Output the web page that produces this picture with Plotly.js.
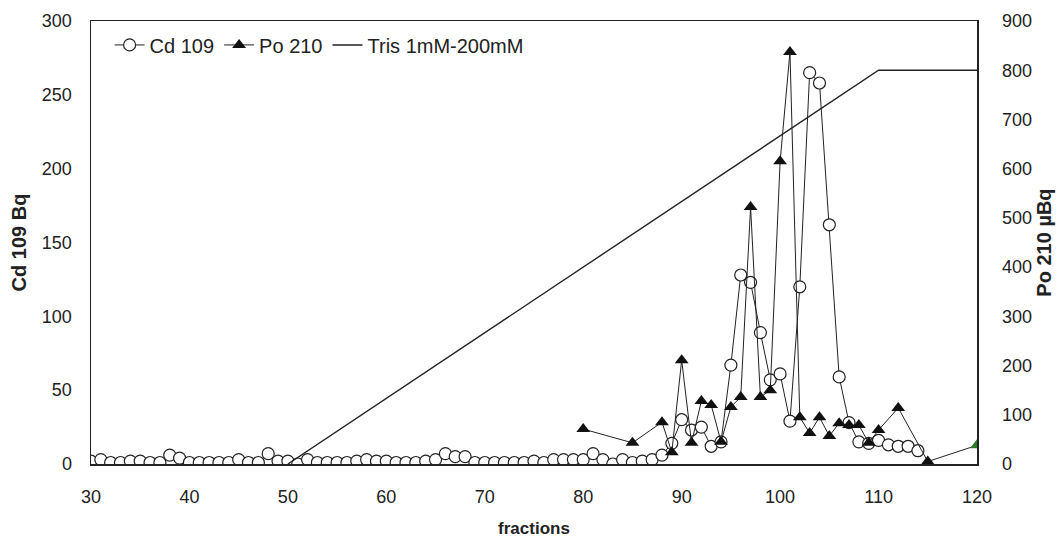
<!DOCTYPE html>
<html>
<head>
<meta charset="utf-8">
<script src="https://cdn.plot.ly/plotly-3.0.1.min.js"></script>
<style>html,body{margin:0;padding:0;background:#fff;}#chart{width:1060px;height:541px;}</style>
</head>
<body>
<div id="chart"></div>
<script>
// Cd 109 (Bq), one value per fraction 30..114
const cdFractions = [30,31,32,33,34,35,36,37,38,39,40,41,42,43,44,45,46,47,48,49,50,51,52,53,54,55,56,57,58,59,60,61,62,63,64,65,66,67,68,69,70,71,72,73,74,75,76,77,78,79,80,81,82,83,84,85,86,87,88,89,90,91,92,93,94,95,96,97,98,99,100,101,102,103,104,105,106,107,108,109,110,111,112,113,114];
const cdValues = [2,3,1,1,2,2,1,1,6,4,1,1,1,1,1,3,1,1,7,2,2,0,3,1,1,1,1,2,3,2,2,1,1,1,2,3,7,5,5,1,1,1,1,1,1,2,1,3,3,3,3,7,3,0,3,1,2,3,6,14,30,23,25,12,15,67,128,123,89,57,61,29,120,265,258,162,59,28,15,14,16,13,12,12,9];
// Po 210 (µBq)
const poFractions = [80,85,88,89,90,91,92,93,94,95,96,97,98,99,100,101,102,103,104,105,106,107,108,109,110,112,115,120];
const poValues = [71,43,85,24,211,43,128,120,45,116,136,522,136,150,615,837,95,63,95,57,83,79,79,43,69,114,5,38];
// Tris gradient (plotted on right scale, 800 = 200 mM)
const trisFractions = [50,110,120];
const trisValues = [0,800,800];

const poColors = poFractions.map((f,i)=> i===poFractions.length-1 ? '#2a7a2a' : '#111');

const traces = [
  {x: cdFractions, y: cdValues, name: 'Cd 109', type: 'scatter', mode: 'lines+markers',
   line: {color: '#222', width: 1},
   marker: {symbol: 'circle', size: 12, color: '#fff', line: {color: '#222', width: 1.2}},
   yaxis: 'y'},
  {x: poFractions, y: poValues, name: 'Po 210', type: 'scatter', mode: 'lines+markers',
   line: {color: '#222', width: 1},
   marker: {symbol: 'triangle-up', size: 12, color: poColors, line: {width: 0}},
   yaxis: 'y2'},
  {x: trisFractions, y: trisValues, name: 'Tris 1mM-200mM', type: 'scatter', mode: 'lines',
   line: {color: '#222', width: 1.4}, yaxis: 'y2'}
];

const fam = 'Liberation Sans, Arial, sans-serif';
const ink = '#222';
const layout = {
  width: 1060, height: 541,
  margin: {l: 91, r: 83, t: 21, b: 77},
  paper_bgcolor: '#fff', plot_bgcolor: '#fff',
  font: {family: fam, size: 18, color: ink},
  showlegend: true,
  legend: {orientation: 'h', x: 0.021, y: 0.99, xanchor: 'left', yanchor: 'top',
           font: {family: fam, size: 20, color: ink}, bgcolor: 'rgba(0,0,0,0)', traceorder: 'normal'},
  xaxis: {range: [30, 120], tickvals: [30,40,50,60,70,80,90,100,110,120], showgrid: false, zeroline: false,
          showline: true, linecolor: ink, linewidth: 1.5, mirror: true, ticks: '', ticklabelstandoff: 16,
          tickfont: {family: fam, size: 18, color: ink},
          title: {text: '<b>fractions</b>', font: {family: fam, size: 17, color: ink}, standoff: 16}},
  yaxis: {range: [0, 300], tickvals: [0,50,100,150,200,250,300], showgrid: false, zeroline: false,
          showline: true, linecolor: ink, linewidth: 1.5, ticks: '', ticklabelstandoff: 14,
          tickfont: {family: fam, size: 18, color: ink},
          title: {text: '<b>Cd 109 Bq</b>', font: {family: fam, size: 20, color: ink}, standoff: 10}},
  yaxis2: {range: [0, 900], tickvals: [0,100,200,300,400,500,600,700,800,900], overlaying: 'y', side: 'right',
          showgrid: false, zeroline: false, showline: true, linecolor: ink, linewidth: 1.5, ticks: '', ticklabelstandoff: 20,
          tickfont: {family: fam, size: 18, color: ink},
          title: {text: '<b>Po 210 µBq</b>', font: {family: fam, size: 20, color: ink}, standoff: 6}}
};

Plotly.newPlot('chart', traces, layout, {displayModeBar: false, staticPlot: true});
</script>
</body>
</html>
